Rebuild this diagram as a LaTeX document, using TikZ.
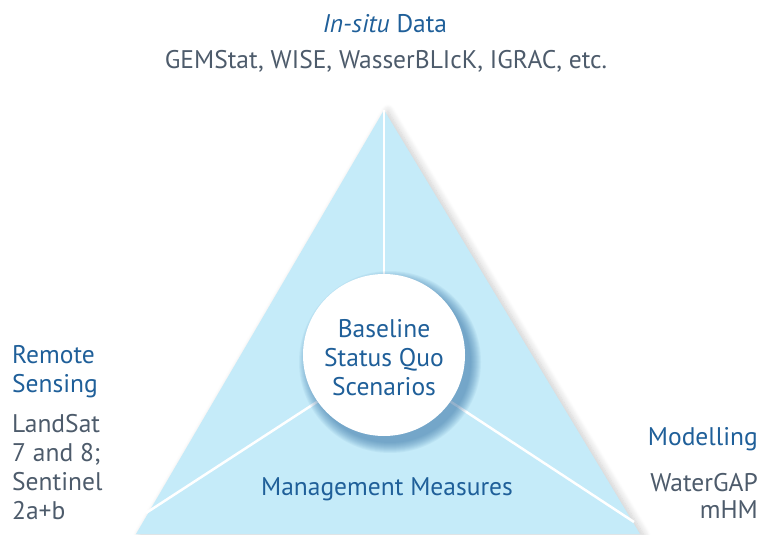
\documentclass[tikz,border=0pt]{standalone}
\usepackage{fontspec}
\setmainfont{PT Sans}
\usetikzlibrary{shadows.blur}
\definecolor{tri}{HTML}{C5EBF9}
\definecolor{tblue}{HTML}{1F5F99}
\definecolor{tgray}{HTML}{4D5B6B}
\tikzset{
  bluetxt/.style={text=tblue, font=\fontsize{25.5}{29}\selectfont, inner sep=0pt},
  graytxt/.style={text=tgray, font=\fontsize{25.5}{29}\selectfont, inner sep=0pt},
  sep/.style={draw=white, line width=2.5pt}
}
\begin{document}
\begin{tikzpicture}[x=1pt,y=-1pt]
\useasboundingbox (0,0) rectangle (776,535);
% triangle
\coordinate (apex) at (384,110);
\coordinate (bl) at (136,534);
\coordinate (br) at (640,534);
\fill[tri, blur shadow={shadow xshift=4pt, shadow yshift=-1pt, shadow blur radius=7pt, shadow opacity=20, shadow blur steps=12}] (apex) -- (bl) -- (br) -- cycle;
\coordinate (lend) at (146,513);
\coordinate (rend) at (634,522);
% separators
\node[circle, minimum size=162pt, inner sep=0pt] (hub) at (384,355) {};
\draw[sep] (apex) -- (hub.north);
\draw[sep] (hub.215) -- (lend);
\draw[sep] (hub.-35) -- (rend);
% soft blue shadow of the hub
\foreach \k in {0,...,10} {
  \fill[tblue, opacity=0.055] (390,362) circle ({91-\k});
}
\node[circle, fill=white, minimum size=162pt, inner sep=0pt] (hubc) at (384,355) {};
\node[bluetxt, align=center, anchor=base] (hubtxt) at (384,395) {Baseline\\Status Quo\\Scenarios};
% labels
\node[bluetxt, anchor=base] (insitu) at (385,33) {\textit{In-situ} Data};
\node[graytxt, anchor=base] (gem) at (386,68) {GEMStat, WISE, WasserBLIcK, IGRAC, etc.};
\node[bluetxt, align=left, anchor=base west] (remote) at (12,392) {Remote\\Sensing};
\node[graytxt, align=left, anchor=base west] (land) at (12,519) {LandSat\\7 and 8;\\Sentinel\\2a+b};
\node[bluetxt, anchor=base east] (model) at (758,445) {Modelling};
\node[graytxt, align=right, anchor=base east, font=\fontsize{25.5}{26.5}\selectfont] (water) at (758,518) {WaterGAP\\mHM};
\node[bluetxt, anchor=base] (mgmt) at (387,495) {Management Measures};
\end{tikzpicture}
\end{document}
